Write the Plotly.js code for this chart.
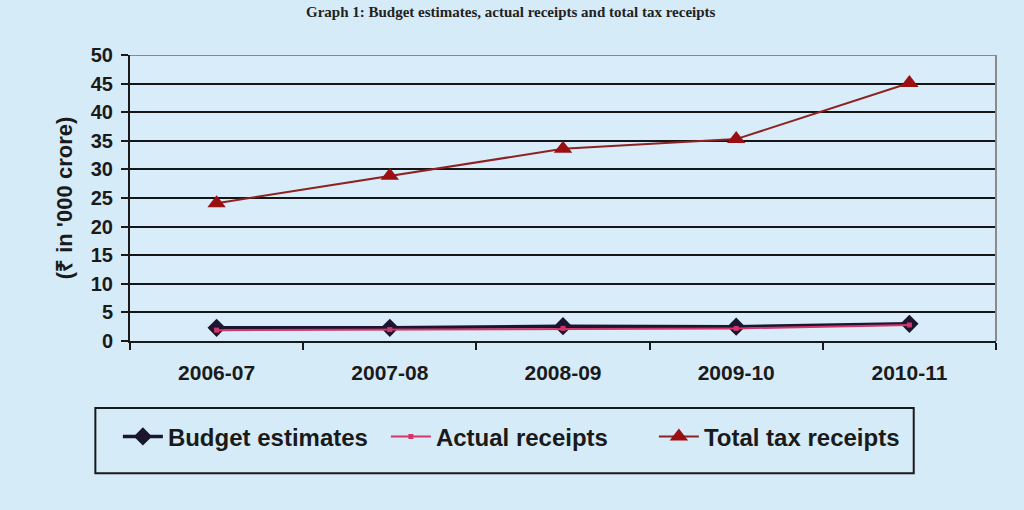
<!DOCTYPE html>
<html>
<head>
<meta charset="utf-8">
<script src="https://cdn.plot.ly/plotly-3.0.1.min.js"></script>
<style>
html,body{margin:0;padding:0;background:#d6ebf8;}
#chart{width:1024px;height:510px;}
</style>
</head>
<body>
<div id="chart"></div>
<script>
var years = ["2006-07", "2007-08", "2008-09", "2009-10", "2010-11"];
var budgetEstimates = [2.3, 2.3, 2.6, 2.5, 3.0];
var actualReceipts = [1.9, 2.0, 2.2, 2.2, 2.8];
var totalTaxReceipts = [24.1, 28.9, 33.6, 35.3, 45.1];
var yTicks = [0, 5, 10, 15, 20, 25, 30, 35, 40, 45, 50];

var fontFam = "Liberation Sans, Arial, sans-serif";

var traces = [
  {
    x: years, y: budgetEstimates, name: "Budget estimates", type: "scatter", mode: "lines+markers",
    line: {color: "#1b1530", width: 3.5},
    marker: {symbol: "diamond", size: 14, color: "#1b1530"}
  },
  {
    x: years, y: actualReceipts, name: "Actual receipts", type: "scatter", mode: "lines+markers",
    line: {color: "#d4356b", width: 2},
    marker: {symbol: "square", size: 5, color: "#d4356b"}
  },
  {
    x: years, y: totalTaxReceipts, name: "Total tax receipts", type: "scatter", mode: "lines+markers",
    line: {color: "#8e2222", width: 2},
    marker: {symbol: "triangle-up", size: 16, color: "#9a0f12"}
  }
];

var layout = {
  width: 1024, height: 510,
  paper_bgcolor: "#d6ebf8",
  plot_bgcolor: "#d8edf9",
  margin: {l: 130, r: 28, t: 55, b: 169},
  font: {family: fontFam, color: "#1a1a1a"},
  showlegend: true,
  xaxis: {
    type: "category",
    range: [-0.5, 4.5],
    showgrid: false,
    showline: true, linecolor: "#1a1a1a", linewidth: 2,
    ticks: "outside", tickson: "boundaries", ticklen: 7, tickwidth: 2, tickcolor: "#1a1a1a",
    tickfont: {family: fontFam, size: 21, color: "#1a1a1a", weight: "bold"},
    ticklabelstandoff: 12,
    zeroline: false,
    fixedrange: true
  },
  yaxis: {
    range: [0, 50],
    tickvals: yTicks,
    ticktext: yTicks.map(String),
    showgrid: true, gridcolor: "#151515", gridwidth: 2,
    showline: true, linecolor: "#1a1a1a", linewidth: 2,
    ticks: "outside", ticklen: 7, tickwidth: 2, tickcolor: "#1a1a1a",
    tickfont: {family: fontFam, size: 20, color: "#1a1a1a", weight: "bold"},
    ticklabelstandoff: 4,
    zeroline: false,
    title: {text: "(₹ in '000 crore)", font: {family: fontFam, size: 22, color: "#1a1a1a", weight: "bold"}, standoff: 12},
    fixedrange: true
  },
  legend: {
    orientation: "h",
    x: -0.014, xanchor: "left",
    y: -0.335, yanchor: "middle",
    bgcolor: "rgba(0,0,0,0)",
    font: {family: fontFam, size: 24, color: "#1a1a1a", weight: "bold"},
    itemwidth: 40,
    entrywidth: 213,
    tracegroupgap: 0
  },
  shapes: [
    {type: "line", xref: "paper", yref: "y", x0: 0, x1: 1, y0: 50, y1: 50, line: {color: "#8a8a8a", width: 2}, layer: "above"},
    {type: "line", xref: "paper", yref: "paper", x0: 1, x1: 1, y0: 0, y1: 1, line: {color: "#8a8a8a", width: 2}, layer: "above"},
    {type: "rect", xref: "paper", yref: "paper", x0: -0.04, x1: 0.905, y0: -0.234, y1: -0.462, line: {color: "#1a1a1a", width: 2}, fillcolor: "rgba(0,0,0,0)"}
  ],
  annotations: [
    {text: "Graph 1: Budget estimates, actual receipts and total tax receipts", xref: "paper", yref: "paper",
     x: 0.44, y: 1.0, yshift: 53, showarrow: false, yanchor: "top",
     font: {family: "Liberation Serif, Times New Roman, serif", size: 15, color: "#222", weight: "bold"}}
  ]
};

Plotly.newPlot("chart", traces, layout, {displayModeBar: false, staticPlot: true});
</script>
</body>
</html>
